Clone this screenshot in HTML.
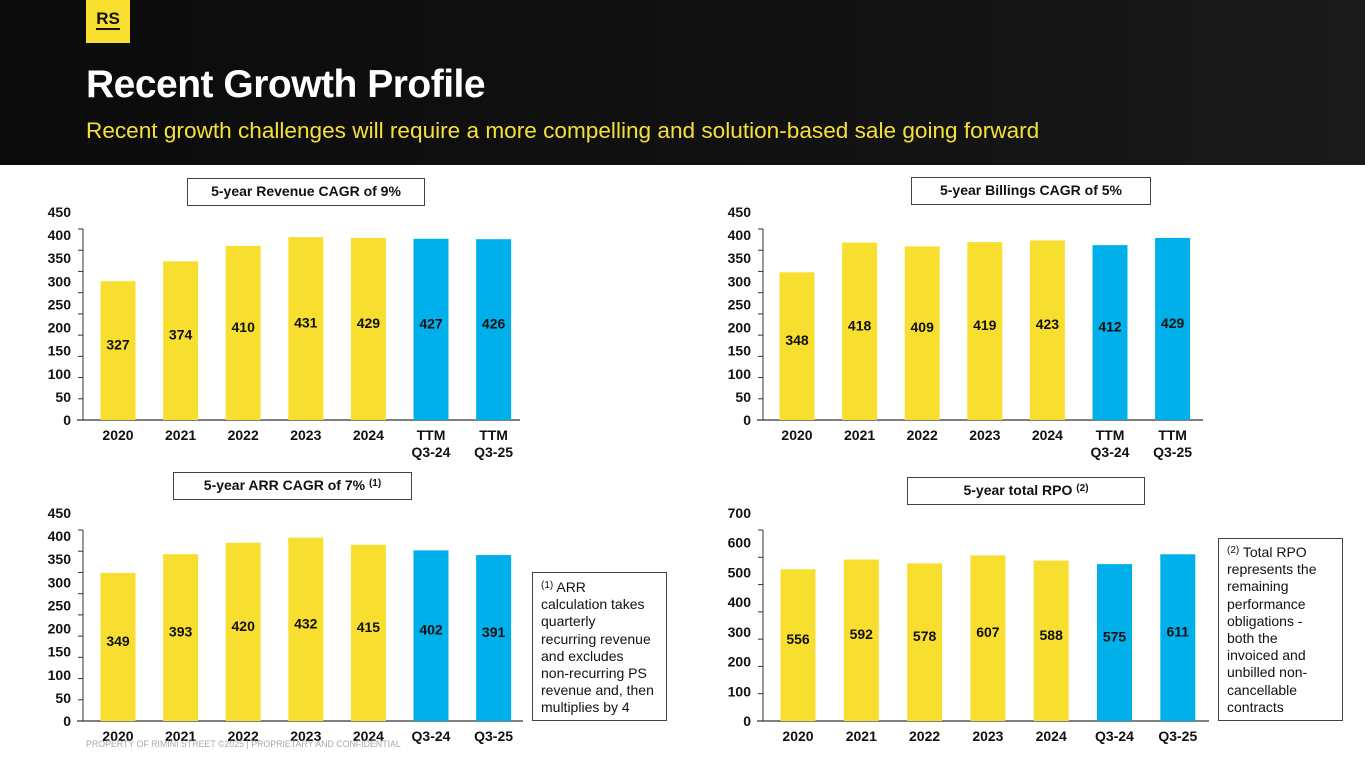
<!DOCTYPE html>
<html><head><meta charset="utf-8"><style>
html,body{margin:0;padding:0;width:1365px;height:768px;overflow:hidden;background:#fff;font-family:"Liberation Sans",Arial,sans-serif}
#hdr{position:absolute;left:0;top:0;width:1365px;height:165px;background:linear-gradient(90deg,#0b0b0b,#121212 60%,#1a1a1a)}
#logo{position:absolute;left:86px;top:0;width:44px;height:43px;background:#f8df2f;color:#111;font-weight:bold;font-size:17px;text-align:center;line-height:38px}
#logo span{border-bottom:2px solid #111;line-height:16px;display:inline-block;padding-bottom:1px}
#title{position:absolute;left:86px;top:63px;color:#fff;font-weight:bold;font-size:39px;letter-spacing:-0.5px}
#sub{position:absolute;left:86px;top:118px;color:#f5e03a;font-size:22.6px}
svg{position:absolute;left:0;top:0}
.box{position:absolute;border:1.5px solid #444;background:#fff;font-size:14px;color:#111;padding:0 0 0 8px;box-sizing:border-box;white-space:nowrap;line-height:17.2px}
.box sup{font-size:10px;vertical-align:4px;line-height:0}
.tb{position:absolute;border:1.5px solid #444;background:#fff;font-weight:bold;font-size:14px;text-align:center;box-sizing:border-box;line-height:24px;color:#111}
.tb sup{font-size:10px;vertical-align:4px;line-height:0}
#foot{position:absolute;left:86px;top:739px;font-size:8.8px;color:#aaa}
</style></head><body>
<div id="hdr"></div>
<div id="logo"><span>RS</span></div>
<div id="title">Recent Growth Profile</div>
<div id="sub">Recent growth challenges will require a more compelling and solution-based sale going forward</div>
<svg id="chart" width="1365" height="768"></svg>
<div id="foot">PROPERTY OF RIMINI STREET ©2025 | PROPRIETARY AND CONFIDENTIAL</div>
<div class="tb" style="left:187px;top:178px;width:238px;height:28px">5-year Revenue CAGR of 9%</div>
<div class="tb" style="left:911px;top:177px;width:240px;height:28px">5-year Billings CAGR of 5%</div>
<div class="tb" style="left:173px;top:472px;width:239px;height:28px">5-year ARR CAGR of 7% <sup>(1)</sup></div>
<div class="tb" style="left:907px;top:477px;width:238px;height:28px">5-year total RPO <sup>(2)</sup></div>
<div class="box" style="left:532px;top:572px;width:135px;height:149px;padding-top:6px"><sup>(1)</sup> ARR<br>calculation takes<br>quarterly<br>recurring revenue<br>and excludes<br>non-recurring PS<br>revenue and, then<br>multiplies by 4</div>
<div class="box" style="left:1218px;top:538px;width:125px;height:183px;padding-top:5px"><sup>(2)</sup> Total RPO<br>represents the<br>remaining<br>performance<br>obligations -<br>both the<br>invoiced and<br>unbilled non-<br>cancellable<br>contracts</div>
<script>
const revCats=["2020","2021","2022","2023","2024","TTM|Q3-24","TTM|Q3-25"];
const revVals=[327,374,410,431,429,427,426];
const billVals=[348,418,409,419,423,412,429];
const arrCats=["2020","2021","2022","2023","2024","Q3-24","Q3-25"];
const arrVals=[349,393,420,432,415,402,391];
const rpoVals=[556,592,578,607,588,575,611];
const ticks450=[0,50,100,150,200,250,300,350,400,450];
const ticks700=[0,100,200,300,400,500,600,700];
const NS="http://www.w3.org/2000/svg";
const svg=document.getElementById('chart');
function mk(t,a){const e=document.createElementNS(NS,t);for(const k in a)e.setAttribute(k,a[k]);svg.appendChild(e);return e;}
function chart(name,ax0,ax1,zero,top,max,ticks,cats,vals,firstC,sp){
  const y=v=>zero-(v/max)*(zero-top);
  const labStep=(zero-(top-17))/(ticks.length-1);
  const ax=mk('line',{x1:ax0,y1:top,x2:ax0,y2:zero,stroke:'#333','stroke-width':1});
  
  
  const xa=mk('line',{x1:ax0-6,y1:zero,x2:ax1,y2:zero,stroke:'#333','stroke-width':1.2});
  
  
  ticks.forEach((t,i)=>{
    const tk=mk('line',{x1:ax0-5,y1:y(t),x2:ax0,y2:y(t),stroke:'#333'});
    
    
    const tl=mk('text',{x:ax0-12,y:zero-i*labStep+5,'text-anchor':'end','font-size':14,'font-weight':'bold',fill:'#111'});
    tl.textContent=t;
    
    
  });
  vals.forEach((v,i)=>{
    const cx=firstC+i*sp, w=35;
    const b=mk('rect',{x:cx-w/2,y:y(v),width:w,height:zero-y(v),fill:i>=5?'#00b0ea':'#f8df2f'});
    
    
    const vl=mk('text',{x:cx,y:(zero+y(v))/2-1,'text-anchor':'middle','font-size':14,'font-weight':'bold',fill:'#111'});
    vl.textContent=v;
    
    
    cats[i].split('|').forEach((s,j)=>{
      const cl=mk('text',{x:cx,y:zero+20+j*17,'text-anchor':'middle','font-size':14,'font-weight':'bold',fill:'#111'});
      cl.textContent=s;
      
      
    });
  });
}
chart('revenue',83,520,420,229,450,ticks450,revCats,revVals,118,62.6);
chart('billings',763,1203,420,229,450,ticks450,revCats,billVals,797,62.6);
chart('arr',83,523,721,530,450,ticks450,arrCats,arrVals,118,62.6);
chart('rpo',763,1209,721,530,700,ticks700,arrCats,rpoVals,798,63.3);
</script>
</body></html>
